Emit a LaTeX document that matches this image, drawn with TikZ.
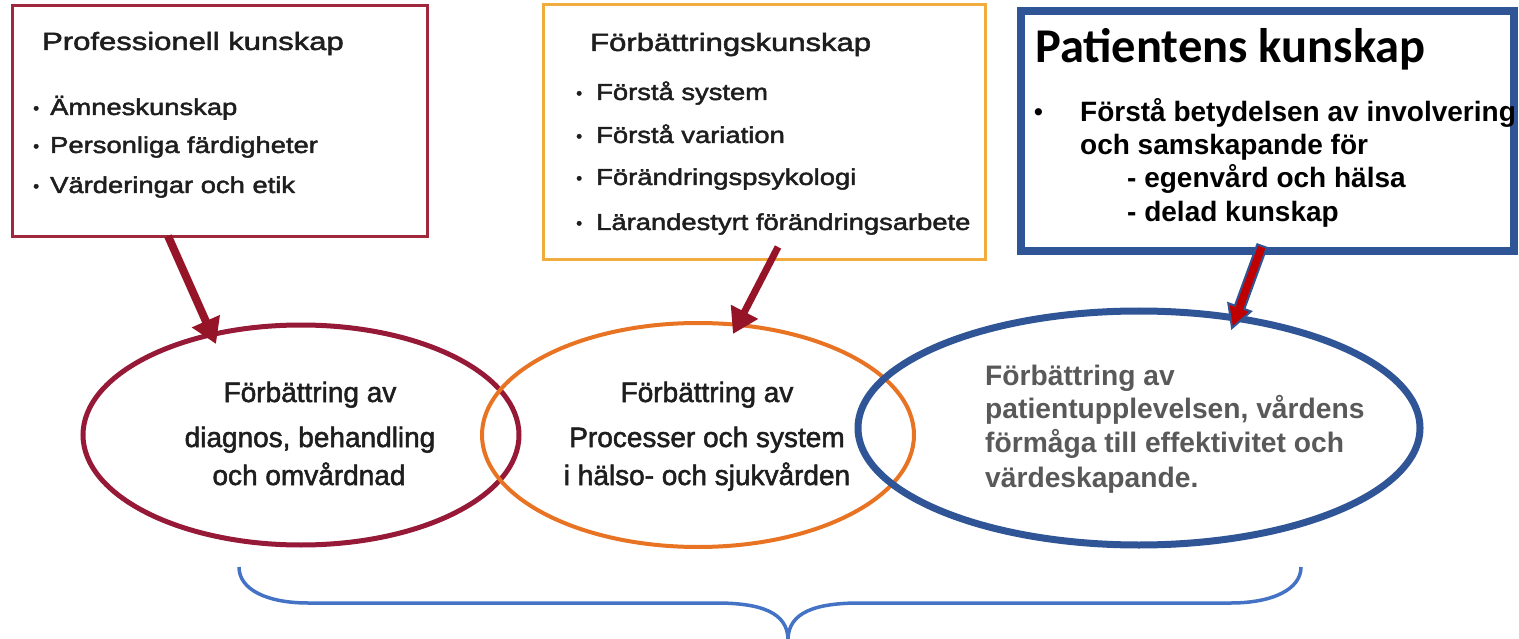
\documentclass[tikz,border=0pt]{standalone}
\usepackage{fontspec}
\usepackage{graphicx}
\setmainfont{Liberation Sans}
\newfontfamily\calibfont{Carlito}
\newfontfamily\scanfont[FakeBold=1.8]{Liberation Sans}
\usetikzlibrary{arrows.meta,shapes.geometric}
\definecolor{boxred}{RGB}{160,40,60}
\definecolor{boxgold}{RGB}{240,172,60}
\definecolor{patblue}{RGB}{47,85,151}
\definecolor{ellred}{RGB}{150,25,55}
\definecolor{ellorange}{RGB}{232,115,35}
\definecolor{arrowred}{RGB}{150,20,40}
\definecolor{blockred}{RGB}{192,0,0}
\definecolor{braceblue}{RGB}{68,114,196}
\definecolor{txtdark}{RGB}{30,30,30}
\definecolor{txtgray}{RGB}{89,89,89}
\newcommand\hscl[2]{\scalebox{#1}[1]{#2}}
\begin{document}
\begin{tikzpicture}[x=1pt,y=-1pt,
  kbox/.style={draw, rectangle, inner sep=0pt, outer sep=0pt},
  ttl/.style={anchor=base west, inner sep=0pt, text=txtdark, font=\scanfont\fontsize{25}{30}\selectfont},
  itm/.style={anchor=base west, inner sep=0pt, text=txtdark, font=\scanfont\fontsize{23}{28}\selectfont},
  dot/.style={anchor=base west, inner sep=0pt, text=txtdark, font=\scanfont\fontsize{17}{20}\selectfont},
  pitm/.style={anchor=base west, inner sep=0pt, text=black, font=\fontsize{28}{33}\selectfont\bfseries},
  oval/.style={draw, ellipse, inner sep=0pt, outer sep=0pt},
  etxt/.style={anchor=base, inner sep=0pt, text=txtdark, font=\scanfont\fontsize{28}{33}\selectfont},
  ptxt/.style={anchor=base west, inner sep=0pt, text=txtgray, font=\fontsize{28.2}{33}\selectfont\bfseries},
  darrow/.style={draw=arrowred, line width=8pt, -{Triangle[length=25pt,width=29pt]}},
  bracestyle/.style={draw=braceblue, line width=3.5pt}
]
\useasboundingbox (0,0) rectangle (1519,639);
\fill[white] (0,0) rectangle (1519,639);

% ---- Box 1: Professionell kunskap
\node[kbox, draw=boxred, line width=3pt, minimum width=415pt, minimum height=231pt] (b1) at (219.5,121.5) {};
\node[ttl] (b1t) at (42,50) {\hscl{1.24}{Professionell kunskap}};
\node[dot] (b1d1) at (33,114) {•};
\node[itm] (b1i1) at (50,115) {\hscl{1.19}{Ämneskunskap}};
\node[dot] (b1d2) at (33,152) {•};
\node[itm] (b1i2) at (50,153) {\hscl{1.19}{Personliga färdigheter}};
\node[dot] (b1d3) at (33,192) {•};
\node[itm] (b1i3) at (50,193) {\hscl{1.19}{Värderingar och etik}};

% ---- Box 2: Förbättringskunskap
\node[kbox, draw=boxgold, line width=3pt, minimum width=442pt, minimum height=255pt] (b2) at (764,132.5) {};
\node[ttl] (b2t) at (590,51) {\hscl{1.24}{Förbättringskunskap}};
\node[dot] (b2d1) at (576,99) {•};
\node[itm] (b2i1) at (596,100) {\hscl{1.19}{Förstå system}};
\node[dot] (b2d2) at (576,142) {•};
\node[itm] (b2i2) at (596,143) {\hscl{1.19}{Förstå variation}};
\node[dot] (b2d3) at (576,184) {•};
\node[itm] (b2i3) at (596,185) {\hscl{1.19}{Förändringspsykologi}};
\node[dot] (b2d4) at (576,229) {•};
\node[itm] (b2i4) at (596,230) {\hscl{1.19}{Lärandestyrt förändringsarbete}};

% ---- Box 3: Patientens kunskap
\node[kbox, draw=patblue, line width=8pt, minimum width=493pt, minimum height=240pt] (b3) at (1267.5,131) {};
\node[anchor=base west, inner sep=0pt, text=black, font=\calibfont\fontsize{48.5}{58}\selectfont\bfseries] (b3t) at (1035,63) {Patientens kunskap};
\node[anchor=base west, inner sep=0pt, text=black, font=\fontsize{25}{30}\selectfont\bfseries] (b3d) at (1034,121) {•};
\node[pitm] (b3i1) at (1080,122) {Förstå betydelsen av involvering};
\node[pitm] (b3i2) at (1080,155) {och samskapande för};
\node[pitm] (b3i3) at (1127,188) {- egenvård och hälsa};
\node[pitm] (b3i4) at (1127,222) {- delad kunskap};

% ---- Ellipses
\node[oval, draw=ellred, line width=5pt, minimum width=436pt, minimum height=220pt] (e1) at (301,435) {};
\node[oval, draw=ellorange, line width=4pt, minimum width=432pt, minimum height=224pt] (e2) at (698,435) {};
\node[oval, draw=patblue, line width=7pt, minimum width=562pt, minimum height=234pt] (e3) at (1139,428) {};

\node[etxt] (e1a) at (310,402) {Förbättring av};
\node[etxt] (e1b) at (310,447) {diagnos, behandling};
\node[etxt] (e1c) at (309,485) {och omvårdnad};

\node[etxt] (e2a) at (707,402) {Förbättring av};
\node[etxt] (e2b) at (707,447) {Processer och system};
\node[etxt] (e2c) at (707,485) {i hälso- och sjukvården};

\node[ptxt] (e3a) at (985,385) {Förbättring av};
\node[ptxt] (e3b) at (985,418) {patientupplevelsen, vårdens};
\node[ptxt] (e3c) at (985,452) {förmåga till effektivitet och};
\node[ptxt] (e3d) at (985,487) {värdeskapande.};

% ---- Arrows
\coordinate (a1s) at (168,236);
\coordinate (a1e) at (216,344);
\coordinate (a2s) at (778,247);
\coordinate (a2e) at (733,334);
\draw[darrow] (a1s) -- (a1e);
\draw[darrow, line width=7pt] (a2s) -- (a2e);

\coordinate (a3s1) at (1266.7,247.7);
\coordinate (a3s2) at (1257.3,244.3);
\coordinate (a3tip) at (1232,328);
\draw[fill=blockred, draw=patblue, line width=2pt, line join=miter]
  (a3s1) -- (1244.3,309.0) -- (1250.9,311.4) -- (a3tip) -- (1228.3,303.2) -- (1234.9,305.6) -- (a3s2) -- cycle;

% ---- Brace
\coordinate (brL) at (239,567);
\coordinate (brR) at (1301,567);
\coordinate (brT) at (788,640);
\draw[bracestyle] (brL) .. controls (239,590) and (268,603) .. (308,603)
  -- (716,603) .. controls (760,603) and (788,612) .. (brT)
  .. controls (788,612) and (816,603) .. (860,603)
  -- (1231,603) .. controls (1271,603) and (1301,590) .. (brR);
\end{tikzpicture}
\end{document}
